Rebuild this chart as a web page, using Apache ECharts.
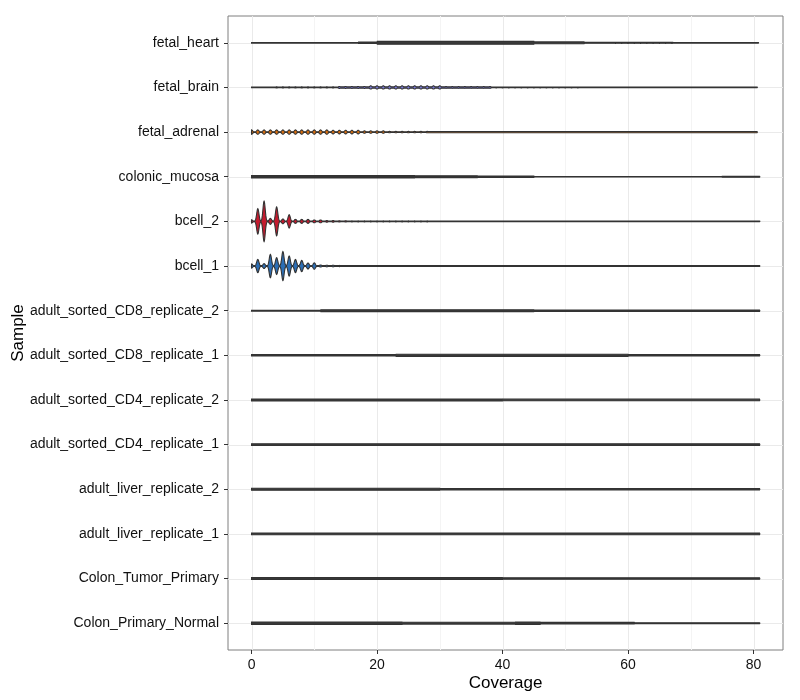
<!DOCTYPE html>
<html><head><meta charset="utf-8">
<script src="https://cdn.jsdelivr.net/npm/echarts@6/dist/echarts.min.js"></script>
<style>html,body{margin:0;padding:0;background:#fff}#chart{width:800px;height:700px}</style>
</head><body><div id="chart"></div>
<script>
// categories, top to bottom
const categories = ['fetal_heart','fetal_brain','fetal_adrenal','colonic_mucosa','bcell_2','bcell_1',
  'adult_sorted_CD8_replicate_2','adult_sorted_CD8_replicate_1','adult_sorted_CD4_replicate_2','adult_sorted_CD4_replicate_1',
  'adult_liver_replicate_2','adult_liver_replicate_1','Colon_Tumor_Primary','Colon_Primary_Normal'];
const xMajorTicks = [0,20,40,60,80];
const xMinorTicks = [10,30,50,70];
const yTicks = [0,1,2,3,4,5,6,7,8,9,10,11,12,13];
// max coverage of each sample
const maxCoverage = [80.8,80.6,80.6,81,81,81,81,81,81,81,81,81,81,81];

// relative density, [from coverage, to coverage, density] (smooth parts)
const fetal_heart_flat = [[0,17,0.015],[17,20,0.035],[20,45,0.07],[45,53,0.045],[53,67,0.02],[67,80.8,0.015]];
const fetal_brain_flat = [[0,14,0.015],[14,38,0.035],[38,80.6,0.015]];
const fetal_adrenal_flat = [[0,28,0.015],[28,80.6,0.03]];
const colonic_mucosa_flat = [[0,26,0.06],[26,36,0.045],[36,45,0.03],[45,75,0.015],[75,81,0.025]];
const bcell_2_flat = [[0,81,0.015]];
const bcell_1_flat = [[0,81,0.018]];
const cd8_rep2_flat = [[0,11,0.02],[11,45,0.045],[45,81,0.035]];
const cd8_rep1_flat = [[0,23,0.035],[23,60,0.05],[60,81,0.035]];
const cd4_rep2_flat = [[0,40,0.05],[40,81,0.04]];
const cd4_rep1_flat = [[0,81,0.04]];
const liver_rep2_flat = [[0,30,0.05],[30,81,0.04]];
const liver_rep1_flat = [[0,81,0.045]];
const tumor_flat = [[0,40,0.045],[40,81,0.035]];
const normal_flat = [[0,24,0.06],[24,42,0.045],[42,46,0.06],[46,61,0.04],[61,81,0.02]];

// density at integer coverages, [from, to, density] (lumpy parts)
const fetal_heart_comb = [[58,67,0.03]];
const fetal_brain_comb = [[4,13,0.03],[14,18,0.05],[19,30,0.08],[31,38,0.045],[39,52,0.025]];
const fetal_adrenal_comb = [[0,12,0.11],[13,17,0.09],[18,21,0.06],[22,28,0.035]];
const bcell_2_comb = [[16,28,0.025]];
const bcell_1_comb = [[15,22,0.025]];

// density at coverage 0,1,2,... for the bcell samples
const bcell_2_peaks = [0.08,0.63,1.0,0.15,0.72,0.12,0.33,0.1,0.1,0.1,0.07,0.07,0.04,0.04,0.03,0.03];
const bcell_1_peaks = [0.1,0.33,0.12,0.58,0.42,0.72,0.5,0.33,0.28,0.15,0.16,0.05,0.04,0.04,0.03];

// styles
const fillColors = ['#3a3a3a','#7B7BD8','#D96E0E','#333333','#C41A2E','#2C6EB5',
  '#3a3a3a','#3a3a3a','#3a3a3a','#3a3a3a','#3a3a3a','#3a3a3a','#3a3a3a','#3a3a3a'];

const flats = [fetal_heart_flat, fetal_brain_flat, fetal_adrenal_flat, colonic_mucosa_flat, bcell_2_flat, bcell_1_flat,
  cd8_rep2_flat, cd8_rep1_flat, cd4_rep2_flat, cd4_rep1_flat, liver_rep2_flat, liver_rep1_flat, tumor_flat, normal_flat];
const combs = [fetal_heart_comb, fetal_brain_comb, fetal_adrenal_comb, [], bcell_2_comb, bcell_1_comb, [], [], [], [], [], [], [], []];
const peaks = [[], [], [], [], bcell_2_peaks, bcell_1_peaks, [], [], [], [], [], [], [], []];

const SIG = 0.18;
function combValueAt(i, k) {
  let d = 0;
  if (k >= 0 && k < peaks[i].length) d = Math.max(d, peaks[i][k]);
  for (const s of combs[i]) if (k >= s[0] && k <= s[1]) d = Math.max(d, s[2]);
  return d;
}
function density(i, x) {
  let h = 0.01;
  for (const s of flats[i]) if (x >= s[0] && x <= s[1]) h = Math.max(h, s[2]);
  const k0 = Math.round(x);
  for (let k = k0 - 1; k <= k0 + 1; k++) {
    const d = combValueAt(i, k);
    if (d > 0) {
      const g = d * Math.exp(-(x - k) * (x - k) / (2 * SIG * SIG));
      h = Math.max(h, g);
    }
  }
  return h;
}

function renderViolin(params, api) {
  const idx = api.value(1);
  const c0 = api.coord([0, idx]);
  const yc = c0[1];
  const band = Math.abs(api.size([0, 1])[1]);
  const ppu = api.size([1, 0])[0];
  const scale = 0.45 * band;
  const top = [], bot = [];
  const maxX = maxCoverage[idx];
  for (let x = 0; x <= maxX + 1e-9; x += 0.04) {
    const h = density(idx, x) * scale;
    const px = c0[0] + x * ppu;
    top.push([px, yc - h]);
    bot.push([px, yc + h]);
  }
  const pts = top.concat(bot.reverse());
  return {
    type: 'polygon',
    shape: { points: pts },
    style: { fill: fillColors[idx], stroke: '#333333', lineWidth: 1.1 }
  };
}

function renderGrid(params, api) {
  const cs = params.coordSys;
  const children = [];
  const ppu = api.size([1, 0])[0];
  const x0 = api.coord([0, 0])[0];
  for (const v of xMinorTicks) {
    const x = Math.round(x0 + v * ppu) + 0.5;
    children.push({ type: 'line', shape: { x1: x, y1: cs.y, x2: x, y2: cs.y + cs.height }, style: { stroke: '#F4F4F4', lineWidth: 1 } });
  }
  for (const v of xMajorTicks) {
    const x = Math.round(x0 + v * ppu) + 0.5;
    children.push({ type: 'line', shape: { x1: x, y1: cs.y, x2: x, y2: cs.y + cs.height }, style: { stroke: '#EAEAEA', lineWidth: 1 } });
  }
  for (const v of yTicks) {
    const y = Math.round(api.coord([0, v])[1]) + 0.5;
    children.push({ type: 'line', shape: { x1: cs.x, y1: y, x2: cs.x + cs.width, y2: y }, style: { stroke: '#EAEAEA', lineWidth: 1 } });
  }
  return { type: 'group', children };
}

const chart = echarts.init(document.getElementById('chart'), null, { renderer: 'canvas' });
const font = 'Liberation Sans, Arial, Helvetica, sans-serif';
chart.setOption({
  animation: false,
  backgroundColor: '#ffffff',
  textStyle: { fontFamily: font },
  grid: { left: 228, right: 17, top: 16, bottom: 50, show: true, borderColor: '#7F7F7F', borderWidth: 1,
    backgroundColor: 'transparent', containLabel: false, outerBoundsMode: 'none' },
  xAxis: {
    type: 'value', min: -3.75, max: 84.7,
    name: 'Coverage', nameLocation: 'middle', nameGap: 25, nameMoveOverlap: false,
    nameTextStyle: { fontSize: 17, color: '#000', fontFamily: font },
    axisLine: { show: false, onZero: false },
    axisTick: { show: true, length: 4, customValues: xMajorTicks, lineStyle: { color: '#333' } },
    axisLabel: { customValues: xMajorTicks, fontSize: 14, color: '#111', margin: 8, fontFamily: font },
    splitLine: { show: false }
  },
  yAxis: {
    type: 'value', inverse: true, min: -0.6, max: 13.6,
    name: 'Sample', nameLocation: 'middle', nameGap: 201, nameRotate: 90, nameMoveOverlap: false,
    nameTextStyle: { fontSize: 17, color: '#000', fontFamily: font },
    axisLine: { show: false, onZero: false },
    axisTick: { show: true, length: 4, customValues: yTicks, lineStyle: { color: '#333' } },
    axisLabel: { customValues: yTicks, fontSize: 14, color: '#111', margin: 9, fontFamily: font,
      formatter: v => categories[Math.round(v)] },
    splitLine: { show: false }
  },
  series: [
    { type: 'custom', coordinateSystem: 'cartesian2d', renderItem: renderGrid, data: [[0, 0]], z: 1, silent: true },
    { type: 'custom', coordinateSystem: 'cartesian2d', renderItem: renderViolin,
      data: categories.map((c, i) => [0, i]), z: 2, silent: true, clip: true }
  ]
});
</script>
</body></html>
